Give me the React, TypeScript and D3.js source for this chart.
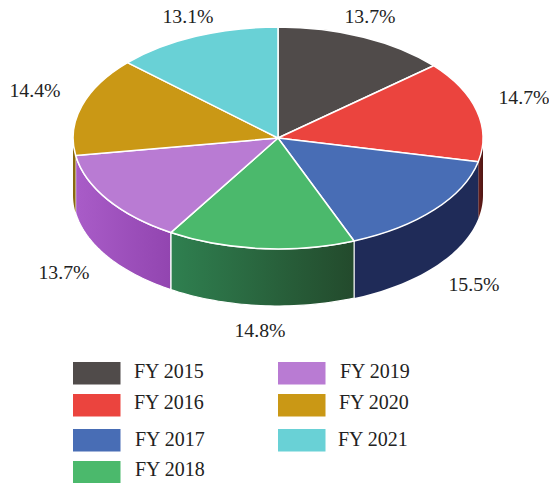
import React from "react";
import * as d3 from "d3";

const years = ["FY 2015", "FY 2016", "FY 2017", "FY 2018", "FY 2019", "FY 2020", "FY 2021"];
const shares = [13.7, 14.7, 15.5, 14.8, 13.7, 14.4, 13.1];
const topColors = ["#504b4a", "#eb443e", "#486db5", "#4bb96c", "#b97bd3", "#ca9815", "#69d1d6"];
const wallFrom = ["#3a3636", "#6a1f1c", "#1f2b58", "#2f8050", "#a95cc8", "#8a6810", "#3f9a9e"];
const wallTo = ["#3a3636", "#4f1512", "#1f2b58", "#234a2c", "#9245b0", "#8a6810", "#3f9a9e"];

const W = 549, H = 483;
const cx = 278, cy = 138, rx = 205, ry = 111, depth = 57;

// label centres and baselines
const labelX = [370, 524, 474, 260, 64, 35, 188];
const labelY = [23, 104, 291, 337, 279, 97, 23];
// legend layout
const swatchX = [73, 73, 73, 73, 278, 278, 278];
const swatchY = [362, 394, 429, 461, 362, 394, 429];
const textX = [134, 134, 135, 135, 340, 339, 338];
const textY = [378, 409, 446, 476, 378, 409, 446];

const FONT = "'Liberation Serif', serif";

const pie = d3.pie<number>().sort(null).value((d) => d);
const arcs = pie(shares);
const unitArc = d3.arc<any>().innerRadius(0).outerRadius(1);

const px = (a: number) => cx + rx * Math.sin(a);
const py = (a: number) => cy - ry * Math.cos(a);

function wallPath(a0: number, a1: number) {
  const n = 40;
  const angles = d3.range(n + 1).map((i) => a0 + ((a1 - a0) * i) / n);
  const line = d3.line<[number, number]>();
  const top = angles.map((a) => [px(a), py(a)] as [number, number]);
  const bottom = angles.slice().reverse().map((a) => [px(a), py(a) + depth] as [number, number]);
  return line([...top, ...bottom]) + "Z";
}

export default function App() {
  const lo = Math.PI / 2, hi = (3 * Math.PI) / 2;
  return (
    <svg width={W} height={H} viewBox={`0 0 ${W} ${H}`} style={{ position: "absolute", left: 0, top: 0, background: "#fff" }}>
      <defs>
        {arcs.map((d, i) => {
          const a0 = Math.max(d.startAngle, lo), a1 = Math.min(d.endAngle, hi);
          return (
            <linearGradient key={i} id={`wall${i}`} gradientUnits="userSpaceOnUse" x1={px(a1)} x2={px(a0)} y1={0} y2={0}>
              <stop offset="0" stopColor={wallFrom[i]} />
              <stop offset="1" stopColor={wallTo[i]} />
            </linearGradient>
          );
        })}
      </defs>
      <g>
        {arcs.map((d, i) => {
          const a0 = Math.max(d.startAngle, lo), a1 = Math.min(d.endAngle, hi);
          if (a1 <= a0) return null;
          return <path key={i} d={wallPath(a0, a1)} fill={`url(#wall${i})`} stroke="#fff" strokeWidth={i === 3 || i === 4 ? 1.2 : 0} />;
        })}
      </g>
      <g transform={`translate(${cx},${cy}) scale(${rx},${ry})`}>
        {arcs.map((d, i) => (
          <path key={i} d={unitArc(d) as string} fill={topColors[i]} stroke="#fff" strokeWidth={1.5} vectorEffect="non-scaling-stroke" strokeLinejoin="round" />
        ))}
      </g>
      {shares.map((s, i) => (
        <text key={i} x={labelX[i]} y={labelY[i]} textAnchor="middle" fontFamily={FONT} fontSize={19.8} fill="#222">
          {s.toFixed(1)}%
        </text>
      ))}
      {years.map((y, i) => (
        <g key={y}>
          <rect x={swatchX[i]} y={swatchY[i]} width={47.5} height={22.5} fill={topColors[i]} />
          <text x={textX[i]} y={textY[i]} fontFamily={FONT} fontSize={20} fill="#222">{y}</text>
        </g>
      ))}
    </svg>
  );
}
